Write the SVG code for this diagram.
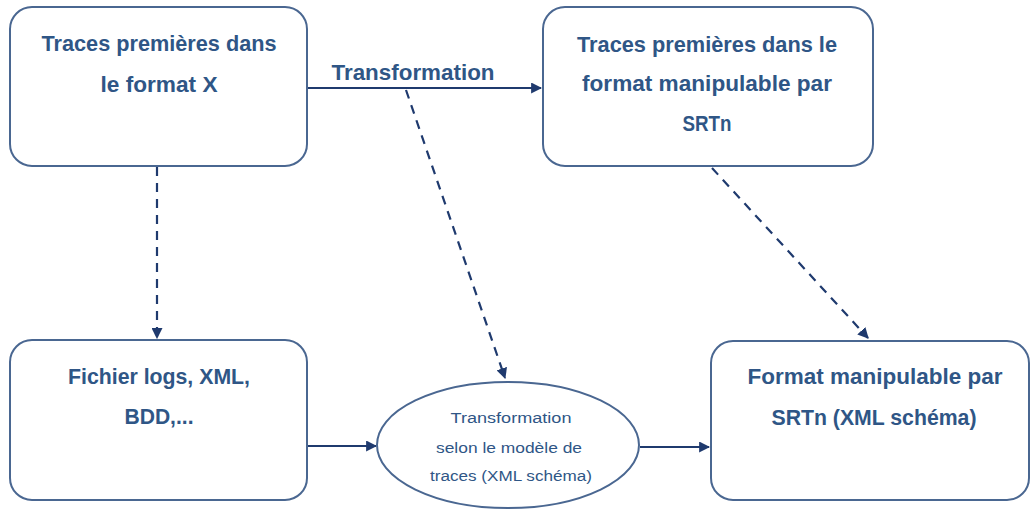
<svg xmlns="http://www.w3.org/2000/svg" width="1033" height="511" viewBox="0 0 1033 511">
<defs>
<style>
.box{fill:#fff;stroke:#4a6791;stroke-width:2}
.t{font-family:"Liberation Sans",Arial,sans-serif;font-weight:bold;font-size:22px;fill:#2f5686;text-anchor:middle}
.s{font-family:"Liberation Sans",Arial,sans-serif;font-size:14px;fill:#2f5686;text-anchor:middle}
.c{fill:none;stroke:#1f3a6e;stroke-width:2.2}
.d{stroke-dasharray:9,7}
</style>
<marker id="ah" viewBox="0 0 10 10" refX="9" refY="5" markerWidth="5" markerHeight="5" orient="auto" markerUnits="strokeWidth">
<path d="M0,0 L10,5 L0,10 z" fill="#1f3a6e"/>
</marker>
</defs>
<rect width="1033" height="511" fill="#fff"/>
<g id="connectors">
<path class="c" d="M307,88 L541,88" marker-end="url(#ah)"/>
<text class="t" x="413" y="80" textLength="163" lengthAdjust="spacingAndGlyphs">Transformation</text>
<path class="c d" d="M157,167 L157,338" marker-end="url(#ah)"/>
<path class="c d" d="M406,90 L505,378" marker-end="url(#ah)"/>
<path class="c d" d="M712,168 L868,338" marker-end="url(#ah)"/>
<path class="c" d="M307,446 L376,446" marker-end="url(#ah)"/>
<path class="c" d="M640,447 L709,447" marker-end="url(#ah)"/>
</g>
<g id="n1">
<rect class="box" x="10" y="7" width="297" height="159" rx="22"/>
<text class="t" x="159" y="51" textLength="235" lengthAdjust="spacingAndGlyphs">Traces premières dans</text>
<text class="t" x="159" y="92" textLength="117" lengthAdjust="spacingAndGlyphs">le format X</text>
</g>
<g id="n2">
<rect class="box" x="543" y="7" width="330" height="159" rx="22"/>
<text class="t" x="707" y="52" textLength="260" lengthAdjust="spacingAndGlyphs">Traces premières dans le</text>
<text class="t" x="707" y="91" textLength="250" lengthAdjust="spacingAndGlyphs">format manipulable par</text>
<text class="t" x="707" y="131" textLength="49" lengthAdjust="spacingAndGlyphs">SRTn</text>
</g>
<g id="n3">
<rect class="box" x="10" y="340" width="297" height="160" rx="22"/>
<text class="t" x="159" y="384" textLength="182" lengthAdjust="spacingAndGlyphs">Fichier logs, XML,</text>
<text class="t" x="159" y="424" textLength="69" lengthAdjust="spacingAndGlyphs">BDD,...</text>
</g>
<g id="n4">
<ellipse class="box" cx="508" cy="445" rx="131" ry="63"/>
<text class="s" x="511" y="423" textLength="121" lengthAdjust="spacingAndGlyphs">Transformation</text>
<text class="s" x="509" y="453" textLength="146" lengthAdjust="spacingAndGlyphs">selon le modèle de</text>
<text class="s" x="511" y="481" textLength="162" lengthAdjust="spacingAndGlyphs">traces (XML schéma)</text>
</g>
<g id="n5">
<rect class="box" x="711" y="341" width="318" height="159" rx="22"/>
<text class="t" x="875" y="384" textLength="255" lengthAdjust="spacingAndGlyphs">Format manipulable par</text>
<text class="t" x="874" y="425" textLength="205" lengthAdjust="spacingAndGlyphs">SRTn (XML schéma)</text>
</g>
</svg>
